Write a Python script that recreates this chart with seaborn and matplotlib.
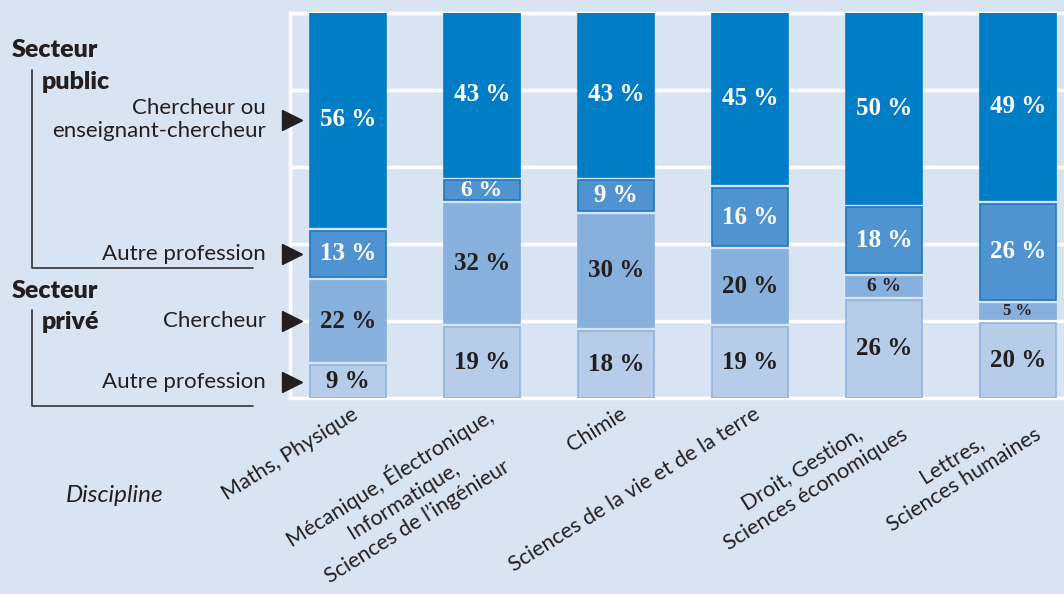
import matplotlib
matplotlib.use("Agg")
import matplotlib.pyplot as plt
import matplotlib.transforms as mtransforms
import seaborn as sns
import pandas as pd
import numpy as np

# données
disciplines = ["Maths, Physique",
               "Mécanique, Électronique,\nInformatique,\nSciences de l’ingénieur",
               "Chimie",
               "Sciences de la vie et de la terre",
               "Droit, Gestion,\nSciences économiques",
               "Lettres,\nSciences humaines"]
prive_autre = [9, 19, 18, 19, 26, 20]
prive_chercheur = [22, 32, 30, 20, 6, 5]
public_autre = [13, 6, 9, 16, 18, 26]
public_chercheur = [56, 43, 43, 45, 50, 49]
row_labels = ["Autre profession", "Chercheur", "Autre profession",
              "Chercheur ou\nenseignant-chercheur"]

BG = "#d9e4f3"
DARK = "#231f20"

sns.set_theme(style="white")
plt.rcParams["font.family"] = ["Lato", "DejaVu Sans"]

fig = plt.figure(figsize=(10.64, 5.94), dpi=100, facecolor=BG)
ax = fig.add_axes([290 / 1064, 196 / 594, 774 / 1064, 385 / 594], facecolor=BG)

# couches, du bas vers le haut : valeurs, fond, bord, couleur du texte, taille des petits libellés
layers = [
    (prive_autre, "#b6cce9", "#8fb4e0", DARK, 14),
    (prive_chercheur, "#88b0dd", "#88b0dd", DARK, 14),
    (public_autre, "#4f94d0", "#1c79c3", "white", 17),
    (public_chercheur, "#007dc5", "#007dc5", "white", 17),
]

gap = 1.0
cum = np.zeros(len(disciplines))
centers = []
for vals, fc, ec, tc, small in layers:
    vals = np.array(vals, dtype=float)
    lo = np.where(cum > 0, cum + gap / 2, cum)
    hi = np.where(cum + vals < 100, cum + vals - gap / 2, cum + vals)
    df = pd.DataFrame({"discipline": disciplines, "h": hi - lo})
    sns.barplot(data=df, x="discipline", y="h", bottom=lo, color=fc,
                edgecolor=ec, linewidth=1.2, width=0.57, saturation=1,
                errorbar=None, ax=ax, zorder=3)
    mid = (lo + hi) / 2
    centers.append(mid[0])
    for i, v in enumerate(vals):
        fs = 18 if v > 6 else (small if v == 6 else 12)
        ax.text(i, mid[i], f"{int(v)} %", ha="center", va="center",
                color=tc, fontsize=fs, fontweight="bold",
                family=["Liberation Serif", "DejaVu Serif"], zorder=4)
    cum = cum + vals

ax.set_xlim(-0.433, 5.343)
ax.set_ylim(0, 100)
ax.set_yticks([0, 20, 40, 60, 80, 100])
ax.grid(axis="y", color="white", linewidth=2.5)
ax.set_axisbelow(True)
ax.tick_params(length=0, labelleft=False)
ax.set_xlabel("")
ax.set_ylabel("")
ax.spines["right"].set_visible(False)
for s in ["left", "top", "bottom"]:
    ax.spines[s].set_color("white")
    ax.spines[s].set_linewidth(2.5)

ax.set_xticks(range(len(disciplines)))
ax.set_xticklabels(disciplines, rotation=32, ha="right", va="top",
                   rotation_mode="anchor", multialignment="center",
                   fontsize=15.5, color=DARK, linespacing=1.3)
off = mtransforms.ScaledTranslation(0.03, -0.01, fig.dpi_scale_trans)
for lab in ax.get_xticklabels():
    lab.set_transform(lab.get_transform() + off)

# repères à gauche (y en données, x en figure)
blend = mtransforms.blended_transform_factory(fig.transFigure, ax.transData)
for y, lab in zip(centers, row_labels):
    ax.plot([292 / 1064], [y], marker=">", markersize=15, color=DARK,
            transform=blend, clip_on=False, zorder=6)
    ax.text(266 / 1064, y, lab, transform=blend, ha="right", va="center",
            multialignment="right", fontsize=16, color=DARK,
            linespacing=1.2)

# titres de secteur et accolades
ov = fig.add_axes([0, 0, 1, 1], facecolor="none")
ov.set_xlim(0, 1064)
ov.set_ylim(594, 0)
ov.axis("off")
for x, y, t in [(12, 50, "Secteur"), (42, 82, "public"),
                (12, 291, "Secteur"), (42, 322, "privé")]:
    ov.text(x, y, t, fontsize=18, fontweight="heavy", va="center", color=DARK)
ov.plot([32, 32, 253], [70, 268, 268], color="#333333", lw=1.2)
ov.plot([32, 32, 253], [310, 406, 406], color="#333333", lw=1.2)
ov.text(115, 495, "Discipline", fontsize=17.5, fontstyle="italic",
        ha="center", va="center", color=DARK)

fig.savefig("out.png", dpi=100, facecolor=BG)
